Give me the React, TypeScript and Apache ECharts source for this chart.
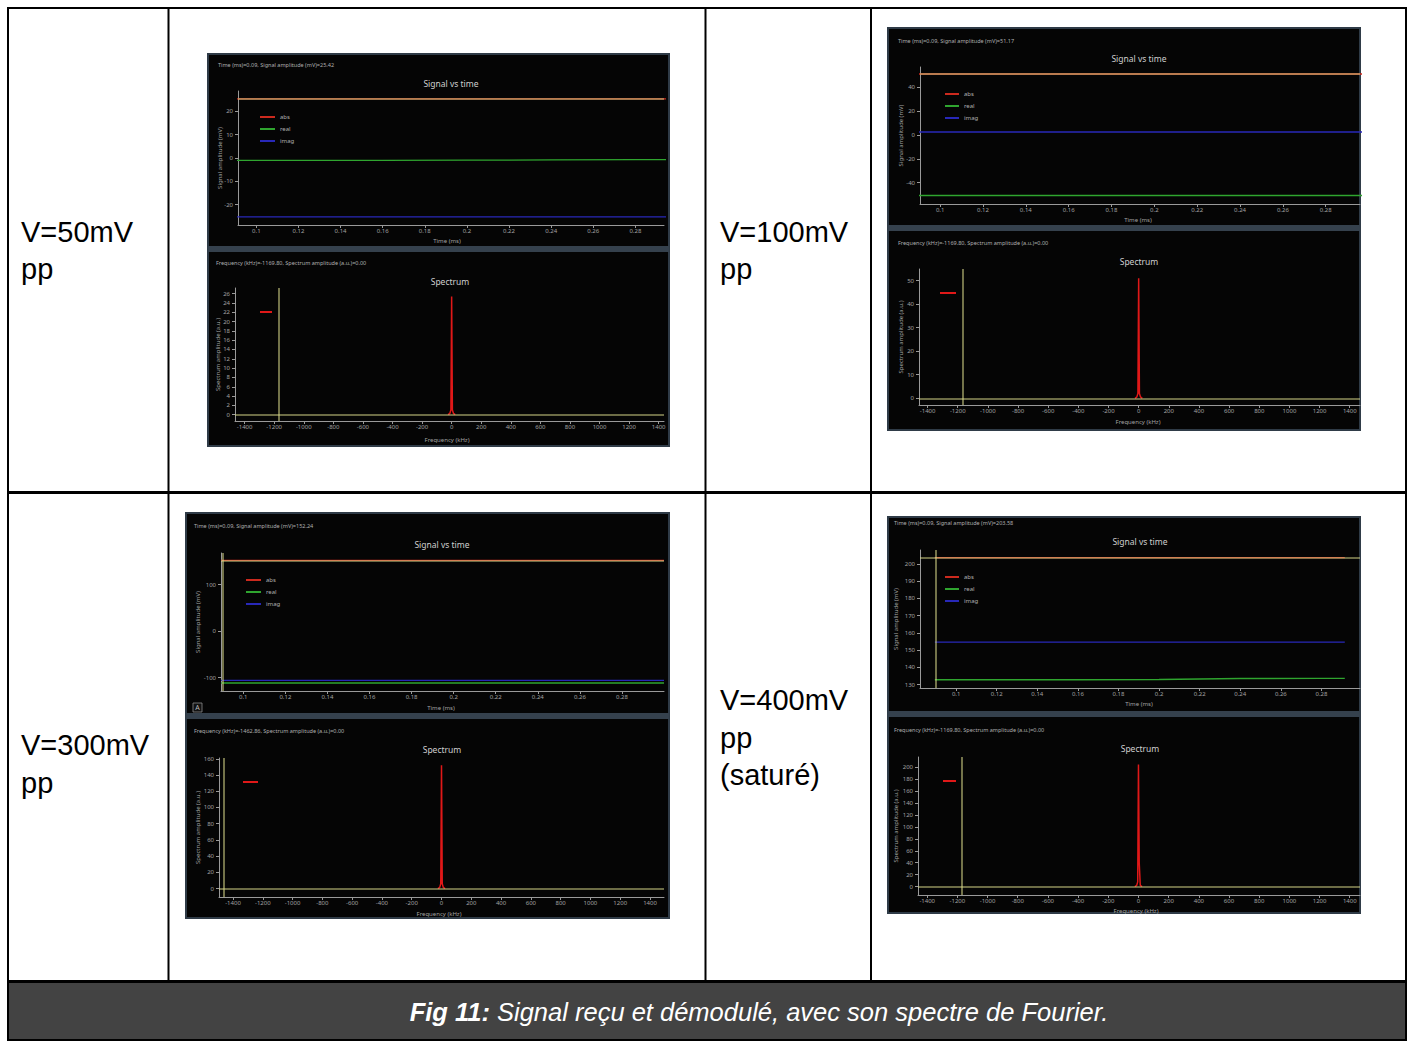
import React, { useEffect, useRef } from "react";
import * as echarts from "echarts";

// ---------------- data ----------------
const timeMs = [0.0895, 0.12, 0.16, 0.2, 0.22, 0.24, 0.28, 0.3];
const timeMs400 = [0.0895, 0.12, 0.16, 0.2, 0.22, 0.24, 0.28, 0.2915];
const abs50 = [25.42, 25.42, 25.42, 25.42, 25.42, 25.42, 25.42, 25.42];
const real50 = [-1.0, -1.0, -1.0, -0.9, -0.9, -0.8, -0.7, -0.7];
const imag50 = [-25.3, -25.3, -25.3, -25.3, -25.3, -25.3, -25.3, -25.3];
const abs100 = [51.17, 51.17, 51.17, 51.17, 51.17, 51.17, 51.17, 51.17];
const real100 = [-50.8, -50.8, -50.8, -50.8, -50.8, -50.8, -50.8, -50.8];
const imag100 = [2.5, 2.5, 2.5, 2.5, 2.5, 2.5, 2.5, 2.5];
const abs300 = [152.24, 152.24, 152.24, 152.24, 152.24, 152.24, 152.24, 152.24];
const real300 = [-111.4, -111.4, -111.4, -111.4, -111.4, -111.4, -111.4, -111.4];
const imag300 = [-105.8, -105.8, -105.8, -105.8, -105.8, -105.8, -105.8, -105.8];
const abs400 = [203.58, 203.58, 203.58, 203.58, 203.58, 203.58, 203.58, 203.58];
const real400 = [132.8, 132.8, 132.8, 132.9, 133.2, 133.5, 133.6, 133.6];
const imag400 = [154.6, 154.6, 154.6, 154.6, 154.6, 154.6, 154.6, 154.6];

const freqKHz = [-24, -12, -5, 0, 5, 12, 24];
const spec50 = [0, 0.3, 1, 25.4, 1, 0.3, 0];
const spec100 = [0, 0.6, 2, 51, 2, 0.6, 0];
const spec300 = [0, 1.5, 6, 152, 6, 1.5, 0];
const spec400 = [0, 2, 8, 204, 40, 2, 0];

const voltageLabels = [
  ["V=50mV", "pp"],
  ["V=100mV", "pp"],
  ["V=300mV", "pp"],
  ["V=400mV", "pp", "(saturé)"],
];
const cursorTimeMs = [0.09, 0.09, 0.09, 0.09];
const cursorAmpMv = [25.42, 51.17, 152.24, 203.58];
const cursorFreqKHz = [-1169.8, -1169.8, -1462.86, -1169.8];
const cursorSpecAu = [0, 0, 0, 0];

const timeTicks = [0.1, 0.12, 0.14, 0.16, 0.18, 0.2, 0.22, 0.24, 0.26, 0.28];
const timeTicks400 = [0.1, 0.12, 0.14, 0.16, 0.18, 0.2, 0.22, 0.24, 0.26, 0.28, 0.3];
const freqTicks = [-1400, -1200, -1000, -800, -600, -400, -200, 0, 200, 400, 600, 800, 1000, 1200, 1400];
const ampTicks50 = [-20, -10, 0, 10, 20];
const ampTicks100 = [-40, -20, 0, 20, 40];
const ampTicks300 = [-100, 0, 100];
const ampTicks400 = [130, 140, 150, 160, 170, 180, 190, 200];
const specTicks50 = [0, 2, 4, 6, 8, 10, 12, 14, 16, 18, 20, 22, 24, 26];
const specTicks100 = [0, 10, 20, 30, 40, 50];
const specTicks300 = [0, 20, 40, 60, 80, 100, 120, 140, 160];
const specTicks400 = [0, 20, 40, 60, 80, 100, 120, 140, 160, 180, 200];

const caption = "Signal reçu et démodulé, avec son spectre de Fourier.";
const captionLead = "Fig 11:";

// ---------------- styling / layout ----------------
const FONT = "'Noto Sans', 'DejaVu Sans', sans-serif";
const TFONT = "'Liberation Sans', Arial, sans-serif";
const AXIS_C = "#9a9a9a";
const LABEL_C = "#a2a2a2";
const TITLE_C = "#cfcfcf";
const HEAD_C = "#b0b0b0";
const ABS_C = "#cc2a1e";
const REAL_C = "#2fa52f";
const IMAG_C = "#2828b8";
const SPEC_C = "#e01818";
const CURSOR_C = "#dcdc8c";

const shots = [
  { box: [208, 54, 669, 446], band: [246, 252] },
  { box: [888, 28, 1360, 430], band: [225, 231] },
  { box: [186, 513, 669, 918], band: [713, 719] },
  { box: [888, 517, 1360, 913], band: [711, 717] },
];

const topPanels = [
  { g: [238, 91, 664, 225], x: [0.0913, 0.2936], y: [-28.8, 28.8], xt: timeTicks, yt: ampTicks50, t: timeMs, abs: abs50, real: real50, imag: imag50,
    head: [218, 65], title: [451, 83], xn: [447, 241], yn: 220, leg: [260, 117, 15] },
  { g: [920, 67, 1360, 204], x: [0.0906, 0.296], y: [-58, 57.1], xt: timeTicks, yt: ampTicks100, t: timeMs, abs: abs100, real: real100, imag: imag100,
    head: [898, 41], title: [1139, 58], xn: [1138, 220], yn: 901, leg: [945, 94, 14] },
  { g: [221, 553, 664, 691], x: [0.0894, 0.3], y: [-128.6, 168], xt: timeTicks, yt: ampTicks300, t: timeMs, abs: abs300, real: real300, imag: imag300,
    head: [194, 526], title: [442, 544], xn: [441, 708], yn: 198, leg: [246, 580, 15] },
  { g: [920, 550, 1360, 688], x: [0.0822, 0.299], y: [128, 208], xt: timeTicks400, yt: ampTicks400, t: timeMs400, abs: abs400, real: real400, imag: imag400,
    head: [894, 523], title: [1140, 541], xn: [1139, 704], yn: 896, leg: [945, 577, 14] },
];

const bottomPanels = [
  { g: [235, 288, 664, 421], x: [-1465, 1436], y: [-1.35, 27.2], yt: specTicks50, spec: spec50,
    head: [216, 263], title: [450, 281], xn: [447, 440], yn: 218, leg: [260, 315, 12] },
  { g: [919, 269, 1360, 405], x: [-1457, 1468], y: [-2.85, 54.9], yt: specTicks100, spec: spec100,
    head: [898, 243], title: [1139, 261], xn: [1138, 422], yn: 901, leg: [940, 296, 16] },
  { g: [219, 758, 664, 897], x: [-1494, 1494], y: [-10.4, 161], yt: specTicks300, spec: spec300,
    head: [194, 731], title: [442, 749], xn: [439, 914], yn: 198, leg: [243, 785, 15] },
  { g: [918, 757, 1360, 895], x: [-1461, 1468], y: [-13.9, 216.7], yt: specTicks400, spec: spec400,
    head: [894, 730], title: [1140, 748], xn: [1136, 911], yn: 896, leg: [943, 784, 13] },
];

const labelPos = [
  { x: 21, y: 231.5 },
  { x: 720, y: 231.5 },
  { x: 21, y: 745 },
  { x: 720, y: 700 },
];

function txt(x: number, y: number, text: string, size: number, fill: string, opts: any = {}) {
  return {
    type: "text",
    x,
    y,
    z: 20,
    silent: true,
    rotation: opts.rotation || 0,
    style: {
      text,
      fill,
      fontSize: size,
      fontFamily: opts.family || FONT,
      fontWeight: opts.weight || "normal",
      fontStyle: opts.style || "normal",
      align: opts.align || "left",
      verticalAlign: "middle",
      textAlign: opts.align || "left",
      textVerticalAlign: "middle",
      rich: opts.rich,
    },
  };
}

function rect(x: number, y: number, w: number, h: number, fill: string, z = -5, stroke?: string, lw = 0) {
  return {
    type: "rect",
    z,
    silent: true,
    shape: { x, y, width: w, height: h },
    style: stroke ? { fill, stroke, lineWidth: lw } : { fill },
  };
}

function buildOption() {
  const grid: any[] = [];
  const xAxis: any[] = [];
  const yAxis: any[] = [];
  const series: any[] = [];
  const legend: any[] = [];
  const elements: any[] = [];

  // ---- table ----
  const L = 7, R = 1407, T = 7, B = 1041;
  elements.push(rect(8, 982, 1398, 58, "#434343", -6));
  elements.push(rect(L, T, R - L, 2, "#000", 30));
  elements.push(rect(L, B - 2, R - L, 2, "#000", 30));
  elements.push(rect(L, T, 2, B - T, "#000", 30));
  elements.push(rect(R - 2, T, 2, B - T, "#000", 30));
  elements.push(rect(L, 491, R - L, 3, "#000", 30));
  elements.push(rect(L, 980, R - L, 3, "#000", 30));
  [167.5, 704.5, 870].forEach((vx) => elements.push(rect(vx, T, 2, 982 - T, "#000", 30)));

  voltageLabels.forEach((lines, k) => {
    lines.forEach((s, j) => {
      elements.push(txt(labelPos[k].x, labelPos[k].y + j * 37.5, s, 29, "#000", { family: TFONT }));
    });
  });

  elements.push(
    txt(759, 1011.5, `{b|${captionLead}} ${caption}`, 25.5, "#ffffff", {
      family: TFONT,
      style: "italic",
      align: "center",
      rich: {
        b: { fontWeight: "bold", fontStyle: "italic", fontSize: 25.5, fontFamily: TFONT, fill: "#ffffff", color: "#ffffff" },
      },
    })
  );

  // ---- screenshots ----
  shots.forEach((s) => {
    const [x0, y0, x1, y1] = s.box;
    elements.push(rect(x0, y0, x1 - x0, y1 - y0, "#050505", -5, "#2f3b47", 2));
    elements.push(rect(x0, s.band[0], x1 - x0, s.band[1] - s.band[0], "#35414d", -4));
  });
  // small "A" auto-range button
  elements.push({ type: "rect", z: 20, silent: true, shape: { x: 193, y: 703, width: 9, height: 9 }, style: { fill: "#111", stroke: "#8a8a8a", lineWidth: 0.8 } });
  elements.push(txt(197.5, 707.5, "A", 7, "#bbbbbb", { align: "center" }));

  const addAxes = (g: number[], xr: number[], yr: number[], xt: number[], yt: number[]) => {
    const i = grid.length;
    grid.push({ left: g[0], top: g[1], width: g[2] - g[0], height: g[3] - g[1], containLabel: false, outerBoundsMode: "none", show: false });
    const line = { show: true, onZero: false, lineStyle: { color: AXIS_C, width: 1 } };
    const lab = { color: LABEL_C, fontSize: 6, fontFamily: FONT, formatter: (v: number) => String(v) };
    xAxis.push({
      type: "value", gridIndex: i, min: xr[0], max: xr[1], splitLine: { show: false }, axisLine: line,
      axisTick: { show: true, inside: false, length: 3, customValues: xt, lineStyle: { color: AXIS_C } },
      axisLabel: { ...lab, customValues: xt, margin: 3 },
    });
    yAxis.push({
      type: "value", gridIndex: i, min: yr[0], max: yr[1], splitLine: { show: false }, axisLine: line,
      axisTick: { show: true, inside: false, length: 3, customValues: yt, lineStyle: { color: AXIS_C } },
      axisLabel: { ...lab, customValues: yt, margin: 5 },
    });
    return i;
  };

  const cursorLine = (data: any[]) => ({
    silent: true,
    symbol: ["none", "none"],
    label: { show: false },
    emphasis: { disabled: true },
    animation: false,
    lineStyle: { color: CURSOR_C, width: 1.6, type: "solid", opacity: 0.65 },
    data,
  });

  topPanels.forEach((p, k) => {
    const i = addAxes(p.g, p.x, p.y, p.xt, p.yt);
    const cx = cursorTimeMs[k];
    const cdata: any[] = [{ yAxis: cursorAmpMv[k] }];
    if (cx >= p.x[0] && cx <= p.x[1]) cdata.push({ xAxis: cx });
    const mk = (name: string, vals: number[], color: string, extra: any = {}) => ({
      type: "line", name, xAxisIndex: i, yAxisIndex: i, color,
      data: p.t.map((t, j) => [t, vals[j]]),
      showSymbol: false, symbol: "none", silent: true, clip: true,
      lineStyle: { color, width: 1.4 }, ...extra,
    });
    series.push(mk("imag", p.imag, IMAG_C));
    series.push(mk("real", p.real, REAL_C));
    series.push(mk("abs", p.abs, ABS_C, { markLine: cursorLine(cdata) }));
    legend.push({
      orient: "vertical", left: p.leg[0], top: p.leg[1] - 4, padding: 0, itemGap: 4,
      itemWidth: p.leg[2], itemHeight: 2, icon: "rect", selectedMode: false,
      data: ["abs", "real", "imag"],
      textStyle: { color: HEAD_C, fontSize: 6, lineHeight: 8, fontFamily: FONT },
    });
    elements.push(txt(p.head[0], p.head[1], `Time (ms)=${cursorTimeMs[k].toFixed(2)}, Signal amplitude (mV)=${cursorAmpMv[k].toFixed(2)}`, 5.5, HEAD_C));
    elements.push(txt(p.title[0], p.title[1], "Signal vs time", 8.5, TITLE_C, { align: "center" }));
    elements.push(txt(p.xn[0], p.xn[1], "Time (ms)", 6, LABEL_C, { align: "center" }));
    elements.push(txt(p.yn, (p.g[1] + p.g[3]) / 2, "Signal amplitude (mV)", 6, LABEL_C, { align: "center", rotation: Math.PI / 2 }));
  });

  bottomPanels.forEach((p, k) => {
    const i = addAxes(p.g, p.x, p.y, freqTicks, p.yt);
    const cdata: any[] = [{ yAxis: cursorSpecAu[k] }, { xAxis: cursorFreqKHz[k] }];
    series.push({
      type: "line", name: "spectrum", xAxisIndex: i, yAxisIndex: i, color: SPEC_C,
      data: freqKHz.map((f, j) => [f, p.spec[j]]),
      showSymbol: false, symbol: "none", silent: true, clip: true,
      lineStyle: { color: SPEC_C, width: 1.5 },
      markLine: cursorLine(cdata),
    });
    legend.push({
      orient: "vertical", left: p.leg[0], top: p.leg[1] - 4, padding: 0,
      itemWidth: p.leg[2], itemHeight: 2, icon: "rect", selectedMode: false,
      data: ["spectrum"], formatter: () => "",
      textStyle: { color: HEAD_C, fontSize: 6, lineHeight: 8, fontFamily: FONT },
    });
    elements.push(txt(p.head[0], p.head[1], `Frequency (kHz)=${cursorFreqKHz[k].toFixed(2)}, Spectrum amplitude (a.u.)=${cursorSpecAu[k].toFixed(2)}`, 5.5, HEAD_C));
    elements.push(txt(p.title[0], p.title[1], "Spectrum", 8.5, TITLE_C, { align: "center" }));
    elements.push(txt(p.xn[0], p.xn[1], "Frequency (kHz)", 6, LABEL_C, { align: "center" }));
    elements.push(txt(p.yn, (p.g[1] + p.g[3]) / 2, "Spectrum amplitude (a.u.)", 6, LABEL_C, { align: "center", rotation: Math.PI / 2 }));
  });

  return {
    animation: false,
    backgroundColor: "#ffffff",
    grid,
    xAxis,
    yAxis,
    series,
    legend,
    graphic: { elements },
  };
}

export default function App() {
  const ref = useRef<HTMLDivElement>(null);
  useEffect(() => {
    if (!ref.current) return;
    const chart = echarts.init(ref.current, null, { renderer: "svg" });
    chart.setOption(buildOption() as any);
    return () => chart.dispose();
  }, []);
  return (
    <div
      ref={ref}
      style={{ position: "absolute", left: 0, top: 0, width: 1412, height: 1045, background: "#ffffff" }}
    />
  );
}
